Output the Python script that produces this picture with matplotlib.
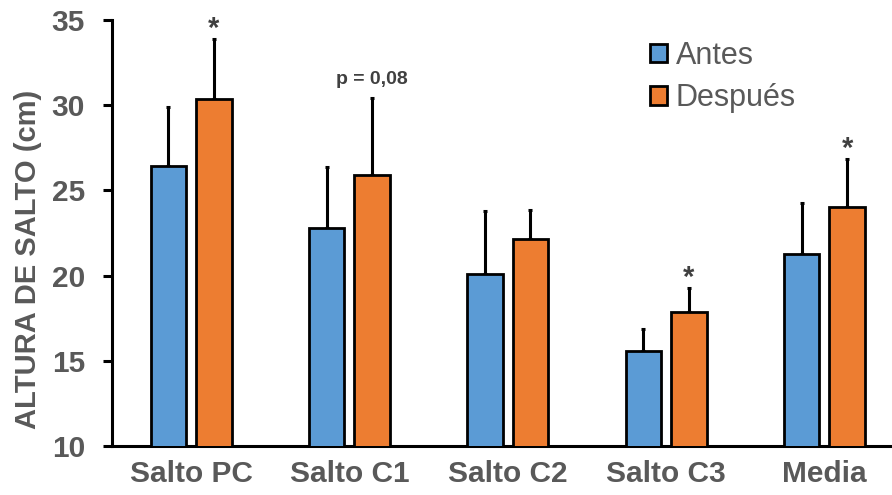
import numpy as np
import matplotlib
matplotlib.use('Agg')
import matplotlib.pyplot as plt

plt.rcParams['font.family'] = ['Liberation Sans', 'DejaVu Sans']

categorias = ['Salto PC', 'Salto C1', 'Salto C2', 'Salto C3', 'Media']
antes = [26.45, 22.8, 20.1, 15.6, 21.25]
despues = [30.35, 25.9, 22.15, 17.85, 24.05]
err_antes = [3.45, 3.6, 3.7, 1.25, 3.0]
err_despues = [3.55, 4.55, 1.7, 1.45, 2.8]
marcas = ['*', 'p = 0,08', '', '*', '*']

gris = '#595959'
azul = '#5B9BD5'
naranja = '#ED7D31'

fig = plt.figure(figsize=(8.92, 4.95), dpi=100)
ax = fig.add_axes([112/892, 1-446/495, 1-112/892, (446-20)/495])

x = np.arange(len(categorias))
w = 0.224
off = 0.1437

eb = dict(ecolor='black', elinewidth=2.2, capsize=1.5, capthick=2.2)
ax.bar(x-off, antes, w, color=azul, edgecolor='black', linewidth=2,
       label='Antes', zorder=3)
ax.bar(x+off, despues, w, color=naranja, edgecolor='black', linewidth=2,
       label='Después', zorder=3)
ax.errorbar(x-off, antes, yerr=[np.zeros(5), err_antes], fmt='none', zorder=2, **eb)
ax.errorbar(x+off, despues, yerr=[np.zeros(5), err_despues], fmt='none', zorder=2, **eb)

for i in range(len(categorias)):
    top = despues[i] + err_despues[i]
    if marcas[i] == '*':
        ax.annotate('*', (x[i]+off, top), xytext=(0, -3), textcoords='offset points',
                    ha='center', va='bottom', fontsize=21, fontweight='bold', color='#404040')
    elif marcas[i]:
        ax.annotate(marcas[i], (x[i]+off, top), xytext=(0, 7), textcoords='offset points',
                    ha='center', va='bottom', fontsize=14, fontweight='bold', color='#404040')

ax.set_ylim(10, 35)
ax.set_yticks([10, 15, 20, 25, 30, 35])
ax.set_xlim(-0.5, -0.5 + (892-112)/158.3)
ax.set_xticks(x)
ax.set_xticklabels(categorias)

for s in ['top', 'right']:
    ax.spines[s].set_visible(False)
for s in ['left', 'bottom']:
    ax.spines[s].set_linewidth(2.2)
ax.tick_params(axis='y', length=6.5, width=2.2, labelsize=21.5, labelcolor=gris, pad=13)
ax.tick_params(axis='x', length=0, labelsize=21.5, labelcolor=gris, pad=10)
for lab in ax.get_xticklabels() + ax.get_yticklabels():
    lab.set_fontweight('bold')

ax.set_ylabel('ALTURA DE SALTO (cm)', fontsize=21, fontweight='bold', color=gris)
ax.yaxis.set_label_coords((42-112)/780, (446-259)/426)

leg = ax.legend(loc='upper left', bbox_to_anchor=(650/892, 1-41/495), bbox_transform=fig.transFigure,
                frameon=False, fontsize=22, handlelength=0.55, handleheight=0.55,
                handletextpad=0.3, labelspacing=0.4, borderaxespad=0, borderpad=0)
for t in leg.get_texts():
    t.set_color(gris)

fig.savefig('out.png', dpi=100)
